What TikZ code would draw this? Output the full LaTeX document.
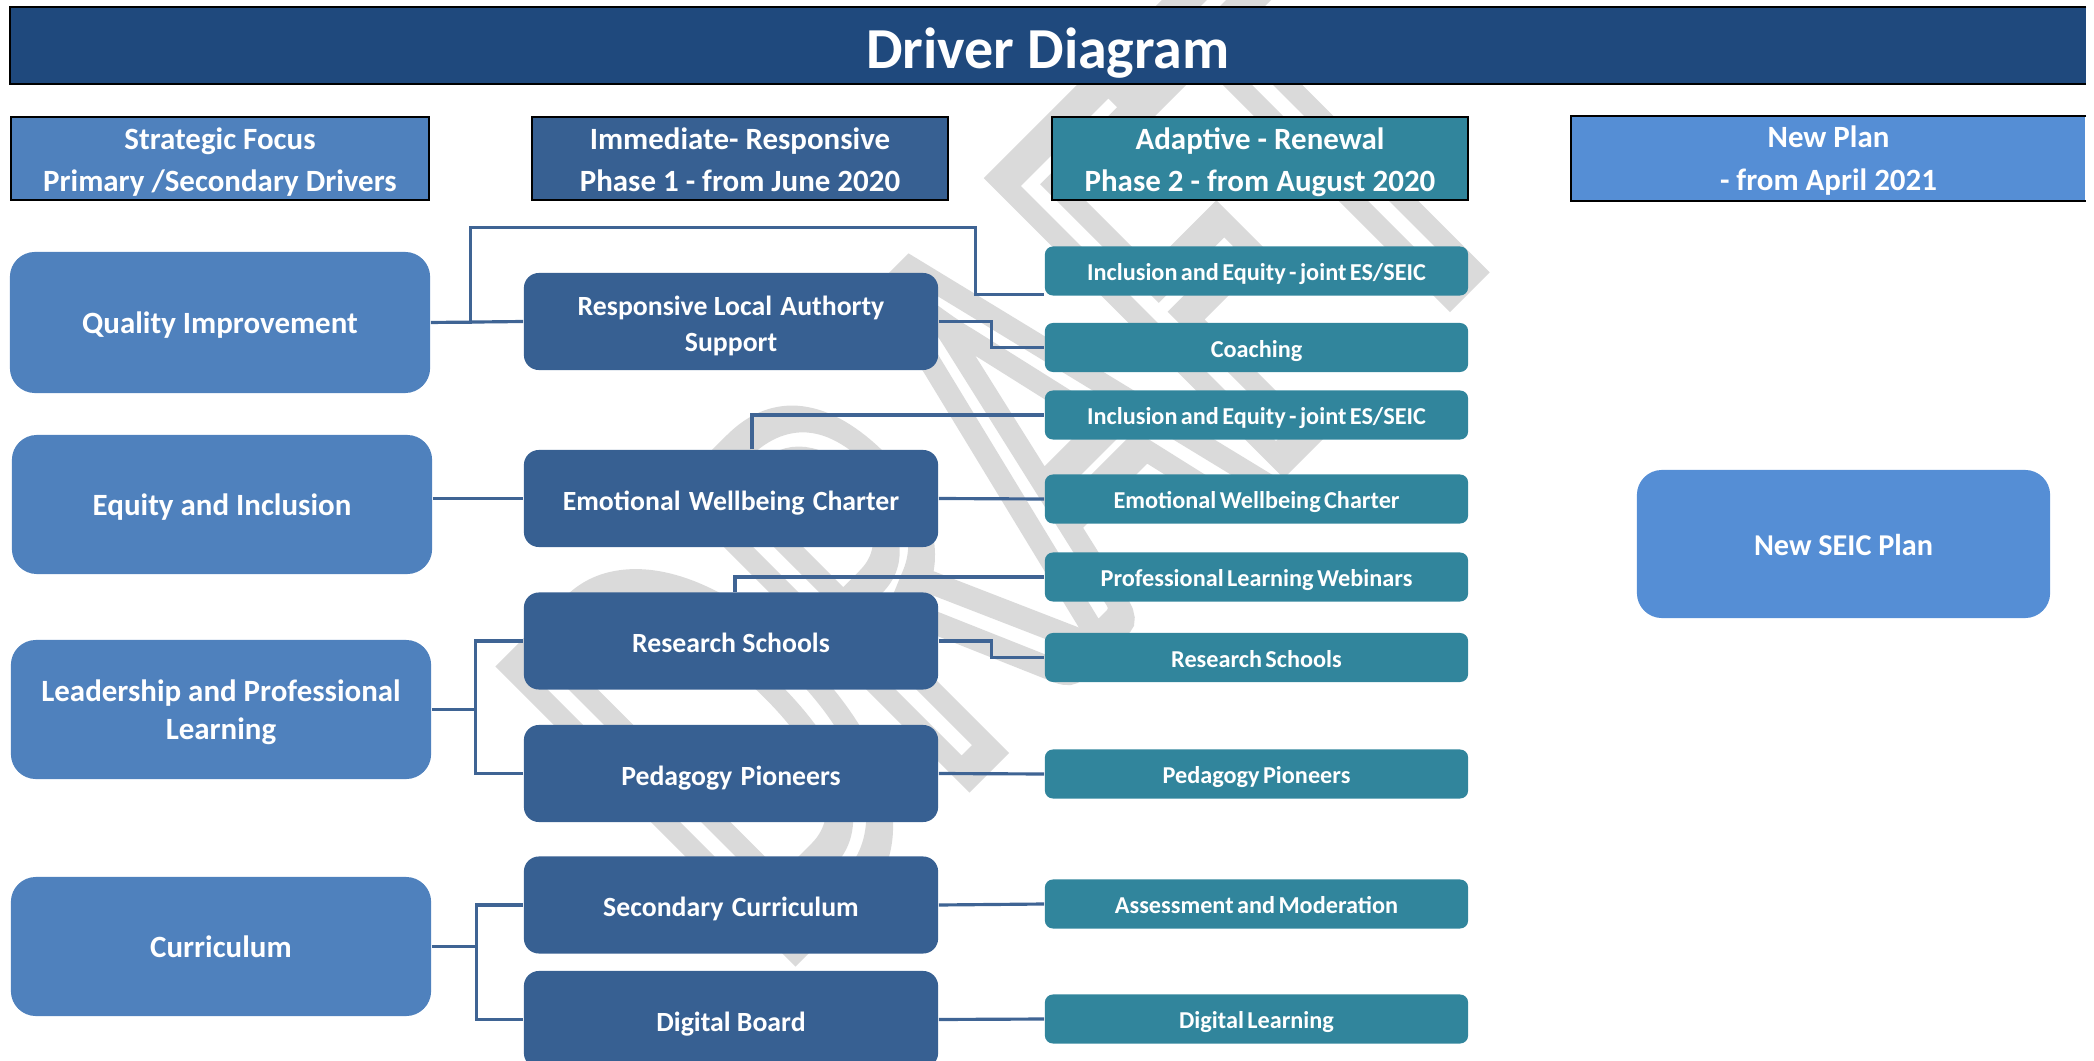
\documentclass[tikz,border=0pt]{standalone}
\usepackage{fontspec}
\setmainfont{Carlito}
\usetikzlibrary{calc}
\definecolor{titleblue}{HTML}{1F497D}
\definecolor{primblue}{HTML}{4F81BD}
\definecolor{secblue}{HTML}{376092}
\definecolor{terteal}{HTML}{31859C}
\definecolor{planblue}{HTML}{558ED5}
\definecolor{linkblue}{HTML}{3F6494}
\definecolor{wmgray}{HTML}{DADADA}
\newcommand{\wsp}{\hspace{0.3em}}
\newcommand{\terfont}{\bfseries\fontsize{6.9}{8}\selectfont\spaceskip=0.14em\relax}
\tikzset{
  headbox/.style={draw=black, line width=0.6pt, minimum width=4.16cm, minimum height=0.83cm,
    inner sep=0pt, align=center, text=white, text height=19pt, text depth=0pt,
    font=\bfseries\fontsize{8.8}{12}\selectfont},
  primbox/.style={fill=primblue, rounded corners=0.25cm, minimum width=4.2cm, minimum height=1.39cm,
    inner sep=0pt, align=center, text=white, text height=6.5pt, text depth=0pt,
    font=\bfseries\fontsize{8.8}{10.8}\selectfont},
  secbox/.style={fill=secblue, rounded corners=0.15cm, minimum width=4.14cm, minimum height=0.97cm,
    inner sep=0pt, align=center, text=white, text height=6.6pt, text depth=0pt,
    font=\bfseries\fontsize{7.9}{10}\selectfont},
  terbox/.style={fill=terteal, rounded corners=0.08cm, minimum width=4.23cm, minimum height=0.49cm,
    inner sep=0pt, text=white, text height=5.6pt, text depth=0pt, font=\terfont},
  link/.style={draw=linkblue, line width=0.9pt}
}
\begin{document}
\begin{tikzpicture}[x=0.01cm, y=-0.01cm]
    \useasboundingbox (0,0) rectangle (2094,1061);
    \clip (0,0) rectangle (2094,1061);
    % watermark
    \node[rotate=45, xscale=0.65, transform shape, text=wmgray, font=\fontsize{174}{174}\selectfont] (wm) at (1011,451)
        {\special{pdf:literal direct 1 Tr 9 w}DRAFT\special{pdf:literal direct 0 Tr}};
    % title and column heads
    \node[fill=titleblue, minimum width=20.74cm, minimum height=0.75cm, inner sep=0pt, text=white,
        text height=13.2pt, text depth=0pt, font=\bfseries\fontsize{16.5}{20}\selectfont] (title) at (1048,45.5) {Driver Diagram};
    \draw[line width=0.6pt] (title.north east) -- (title.north west) -- (title.south west) -- (title.south east);
    \node[headbox, fill=primblue, minimum width=4.18cm] (h1) at (220,158.5) {Strategic Focus\\Primary /Secondary Drivers};
    \node[headbox, fill=secblue] (h2) at (740,158.5) {Immediate- Responsive\\Phase 1 - from June 2020};
    \node[headbox, fill=terteal] (h3) at (1260,158.5) {Adaptive - Renewal\\Phase 2 - from August 2020};
    \node[headbox, draw=none, fill=planblue, minimum width=5.13cm, text height=18pt] (h4) at (1828.5,158.5) {New Plan\\- from April 2021};
    \draw[line width=0.6pt] (h4.north east) -- (h4.north west) -- (h4.south west) -- (h4.south east);
    % primary drivers
    \node[primbox, minimum height=1.41cm] (p1) at (220,322.5) {Quality Improvement};
    \node[primbox] (p2) at (222,504.5) {Equity and Inclusion};
    \node[primbox, text height=17.3pt] (p3) at (221,709.5) {Leadership and Professional\\Learning};
    \node[primbox] (p4) at (221,946.5) {Curriculum};
    % secondary drivers
    \node[secbox, text height=16.8pt] (s1) at (731,321.5) {Responsive Local\wsp Authorty\\Support};
    \node[secbox] (s2) at (731,498.5) {Emotional\wsp Wellbeing\wsp Charter};
    \node[secbox] (s3) at (731,641) {Research Schools};
    \node[secbox] (s4) at (731,773.5) {Pedagogy\wsp Pioneers};
    \node[secbox] (s5) at (731,905) {Secondary\wsp Curriculum};
    \node[secbox] (s6) at (731,1019.5) {Digital Board};
    % change ideas
    \node[terbox] (t1) at (1256.5,271) {Inclusion and Equity - joint ES/SEIC};
    \node[terbox] (t2) at (1256.5,347.5) {Coaching};
    \node[terbox] (t3) at (1256.5,415) {Inclusion and Equity - joint ES/SEIC};
    \node[terbox] (t4) at (1256.5,499) {Emotional Wellbeing Charter};
    \node[terbox] (t5) at (1256.5,577) {Professional Learning Webinars};
    \node[terbox] (t6) at (1256.5,657.5) {Research Schools};
    \node[terbox] (t7) at (1256.5,774) {Pedagogy Pioneers};
    \node[terbox] (t8) at (1256.5,904) {Assessment and Moderation};
    \node[terbox] (t9) at (1256.5,1019) {Digital Learning};
    \node[primbox, fill=planblue, minimum width=4.13cm, minimum height=1.48cm,
        font=\bfseries\fontsize{8.6}{10.8}\selectfont] (np) at (1843.5,544) {New SEIC Plan};
    % links
    \draw[link] (p1.east) -- (s1.west);
    \draw[link] (p1.east) -- ++(40,0) |- ++(505,-95) |- ($(t1.south west)+(0,-2)$);
    \draw[link] (s1.east) -- ++(53,0) |- (t2.west);
    \draw[link] (p2.east |- s2.west) -- (s2.west);
    \draw[link] ($(s2.north)+(21,0)$) |- (t3.west);
    \draw[link] (s2.east) -- (t4.west);
    \draw[link] ($(s3.north)+(4,0)$) |- (t5.west);
    \draw[link] (s3.east) -- ++(53,0) |- (t6.west);
    \draw[link] (p3.east) -- ++(44,0) |- (s3.west);
    \draw[link] (p3.east) -- ++(44,0) |- (s4.west);
    \draw[link] (s4.east) -- (t7.west);
    \draw[link] (p4.east) -- ++(45,0) |- (s5.west);
    \draw[link] (p4.east) -- ++(45,0) |- (s6.west);
    \draw[link] (s5.east) -- (t8.west);
    \draw[link] (s6.east) -- (t9.west);
\end{tikzpicture}
\end{document}
